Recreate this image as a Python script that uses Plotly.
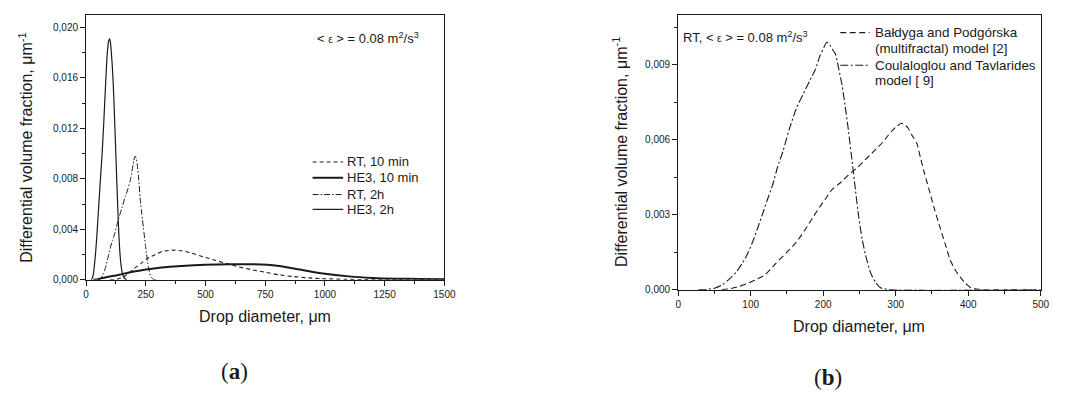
import plotly.graph_objects as go

# ---------------- data: panel (a) ----------------
rt10_x = [100, 130, 160, 180, 202, 230, 257, 290, 320, 360, 400, 440, 491, 540, 590, 640, 698, 750,
          808, 870, 945, 1000, 1083, 1180, 1300, 1500]
rt10_y = [0, 0.00005, 0.00026, 0.00055, 0.0009, 0.0013, 0.00169, 0.0020, 0.00225, 0.00235, 0.0023,
          0.00212, 0.00182, 0.00155, 0.00128, 0.00102, 0.00078, 0.0006, 0.00039, 0.00025, 0.00013,
          0.00008, 0.00004, 0.00001, 0, 0]

he3_10_x = [30, 50, 80, 100, 125, 150, 200, 250, 300, 350, 400, 500, 600, 700, 800, 875, 950, 1000,
            1100, 1200, 1300, 1400, 1500]
he3_10_y = [0, 0.00005, 0.00018, 0.00026, 0.00034, 0.00045, 0.00065, 0.00082, 0.00094, 0.00104,
            0.0011, 0.00119, 0.00123, 0.00123, 0.00112, 0.00088, 0.00062, 0.00048, 0.00027, 0.00015,
            0.00009, 0.00006, 0.00004]

rt2_x = [50, 60, 70, 80, 92, 102, 110, 120, 130, 140, 150, 164, 175, 184, 192, 199, 205, 210, 215,
         220, 226, 233, 240, 248, 256, 264, 272, 285, 300]
rt2_y = [0, 0.00005, 0.0004, 0.0009, 0.0018, 0.0026, 0.0031, 0.0037, 0.0044, 0.0051, 0.0057, 0.0066,
         0.0072, 0.0078, 0.0086, 0.0094, 0.0098, 0.0096, 0.0090, 0.0080, 0.0065, 0.0052, 0.0041,
         0.0028, 0.0016, 0.0007, 0.0002, 0, 0]

he3_2_x = [20, 25, 30, 35, 40, 45, 50, 55, 60, 67, 74, 81, 88, 94, 98, 102, 106, 110, 114, 119, 124,
           130, 136, 142, 148, 155, 162, 170]
he3_2_y = [0, 0.0001, 0.0004, 0.0012, 0.0022, 0.0035, 0.0050, 0.0065, 0.0080, 0.0100, 0.0125,
           0.0153, 0.0178, 0.0189, 0.0191, 0.0188, 0.0179, 0.0168, 0.0153, 0.0128, 0.0102, 0.0070,
           0.0040, 0.0020, 0.0009, 0.0003, 0.0001, 0]

# ---------------- data: panel (b) ----------------
bp_x = [60, 70, 84, 95, 107, 120, 135, 150, 163, 175, 186, 195, 203, 212, 224, 235, 247, 258, 270,
        282, 294, 300, 308, 312, 317, 322, 329, 334, 340, 347, 354, 361, 368, 375, 382, 389, 396, 405,
        420, 500]
bp_y = [0, 0.00003, 0.00013, 0.00024, 0.0004, 0.0006, 0.00106, 0.0015, 0.0019, 0.0024, 0.0029,
        0.0033, 0.00363, 0.004, 0.00429, 0.0046, 0.00488, 0.0052, 0.00554, 0.0059, 0.00633, 0.0065,
        0.00666, 0.0066, 0.00647, 0.0062, 0.00587, 0.0053, 0.00462, 0.0039, 0.00317, 0.0025,
        0.00185, 0.0012, 0.00079, 0.0005, 0.00026, 0.00005, 0, 0]

ct_x = [28, 40, 51, 60, 72, 80, 88.5, 95, 102.5, 110, 116.5, 123, 130.5, 137, 144.5, 153, 163, 172,
        181.7, 189, 195.7, 201, 205, 209, 213, 216.7, 221, 226, 230, 235, 240, 244.6, 249, 254, 260,
        265.6, 272, 279.6, 293.6, 500]
ct_y = [0, 0.00001, 0.00007, 0.00018, 0.00046, 0.0007, 0.00106, 0.0014, 0.0019, 0.0025, 0.00304,
        0.0036, 0.00422, 0.0049, 0.00554, 0.0064, 0.00726, 0.0078, 0.00838, 0.0088, 0.00937, 0.0097,
        0.0099, 0.0098, 0.0096, 0.00944, 0.0089, 0.00818, 0.0074, 0.00633, 0.0051, 0.00396, 0.0029,
        0.00198, 0.0012, 0.00066, 0.0003, 0.00007, 0, 0]

legend_a = ["RT, 10 min", "HE3, 10 min", "RT, 2h", "HE3, 2h"]
legend_b = ["Bałdyga and Podgórska", "(multifractal) model [2]", "Coulaloglou and Tavlarides",
            "model [ 9]"]

W, H = 1069, 403
FONT = "Liberation Sans, Arial, sans-serif"
INK = "#1a1a1a"

# panel geometry (pixels)
AL, AR, AT, AB = 84.3, 447.7, 15, 283.3
BL, BR, BT, BB = 684.8, 1052.5, 15, 293.3


def px(x):
    return x / W


def py(y):
    return 1 - y / H


def bx(f):
    return BL + f * (BR - BL)


styles_a = [
    dict(color=INK, width=1.1, dash="4px,3px"),
    dict(color=INK, width=2.0, dash="solid"),
    dict(color=INK, width=1.0, dash="6px,2px,1.5px,2px"),
    dict(color=INK, width=1.2, dash="solid"),
]
styles_b = [
    dict(color=INK, width=1.1, dash="6px,3.5px"),
    dict(color=INK, width=1.1, dash="8px,2.5px,2px,2.5px"),
]

fig = go.Figure()
for xs, ys, st in zip([rt10_x, he3_10_x, rt2_x, he3_2_x], [rt10_y, he3_10_y, rt2_y, he3_2_y], styles_a):
    fig.add_trace(go.Scatter(x=xs, y=ys, mode="lines", line=dict(shape="spline", smoothing=0.6, **st),
                             xaxis="x", yaxis="y", showlegend=False, hoverinfo="skip"))
for xs, ys, st in zip([bp_x, ct_x], [bp_y, ct_y], styles_b):
    fig.add_trace(go.Scatter(x=xs, y=ys, mode="lines", line=dict(shape="spline", smoothing=0.6, **st),
                             xaxis="x2", yaxis="y2", showlegend=False, hoverinfo="skip"))

axis_common = dict(showline=True, linecolor=INK, linewidth=1.1, mirror=True, ticks="outside",
                   ticklen=5, tickwidth=1, tickcolor=INK, showgrid=False, zeroline=False,
                   tickfont=dict(family=FONT, size=10, color=INK), fixedrange=True)

fig.update_layout(
    width=W, height=H, margin=dict(l=0, r=0, t=0, b=0),
    paper_bgcolor="white", plot_bgcolor="white", separators=", ",
    showlegend=False,
    xaxis=dict(domain=[px(AL), px(AR)], range=[0, 1500], anchor="y", tickvals=[0, 250, 500, 750, 1000, 1250, 1500],
               minor=dict(dtick=125, tick0=0, ticks="outside", ticklen=3, tickcolor=INK), **axis_common),
    yaxis=dict(domain=[py(AB), py(AT)], range=[0, 0.021], anchor="x", tickvals=[0, 0.004, 0.008, 0.012, 0.016, 0.02],
               tickformat=".3f", minor=dict(dtick=0.002, tick0=0, ticks="outside", ticklen=3, tickcolor=INK),
               **axis_common),
    xaxis2=dict(domain=[px(BL), px(BR)], range=[0, 500], anchor="y2", tickvals=[0, 100, 200, 300, 400, 500],
                minor=dict(dtick=50, tick0=0, ticks="outside", ticklen=3, tickcolor=INK), **axis_common),
    yaxis2=dict(domain=[py(BB), py(BT)], range=[0, 0.011], anchor="x2", tickvals=[0, 0.003, 0.006, 0.009],
                tickformat=".3f", minor=dict(dtick=0.0015, tick0=0, ticks="outside", ticklen=3, tickcolor=INK),
                **axis_common),
)

ann = []
tfont = dict(family=FONT, size=16, color=INK)
ann.append(dict(text="Drop diameter, μm", x=px((AL + AR) / 2), y=py(320), xref="paper", yref="paper",
                xanchor="center", yanchor="middle", showarrow=False, font=tfont))
ann.append(dict(text="Differential volume fraction, μm<sup>-1</sup>", x=px(23), y=py(149), xref="paper",
                yref="paper", xanchor="center", yanchor="middle", textangle=-90, showarrow=False, font=tfont))
ann.append(dict(text="Drop diameter, μm", x=px((BL + BR) / 2), y=py(331), xref="paper", yref="paper",
                xanchor="center", yanchor="middle", showarrow=False, font=tfont))
ann.append(dict(text="Differential volume fraction, μm<sup>-1</sup>", x=px(BL - 59), y=py(154), xref="paper",
                yref="paper", xanchor="center", yanchor="middle", textangle=-90, showarrow=False, font=tfont))

lfont = dict(family=FONT, size=13, color=INK)
eps = "&lt; <span style='font-size:10px'>ε</span> &gt; = 0.08 m<sup>2</sup>/s<sup>3</sup>"
ann.append(dict(text=eps, x=px(316), y=py(38), xref="paper", yref="paper", xanchor="left",
                yanchor="middle", showarrow=False, font=lfont))
ann.append(dict(text="RT, " + eps, x=px(bx(0.008)), y=py(37), xref="paper", yref="paper", xanchor="left",
                yanchor="middle", showarrow=False, font=lfont))

shapes = []
rows_a = [164, 180, 197, 212]
for lbl, st, yy in zip(legend_a, styles_a, rows_a):
    shapes.append(dict(type="line", xref="paper", yref="paper", x0=px(314), x1=px(345), y0=py(yy), y1=py(yy),
                       line=st))
    ann.append(dict(text=lbl, x=px(347), y=py(yy), xref="paper", yref="paper", xanchor="left",
                    yanchor="middle", showarrow=False, font=lfont))

bfont = dict(family=FONT, size=13.4, color=INK)
rows_b = [33, 49, 66, 82]
for i, (lbl, yy) in enumerate(zip(legend_b, rows_b)):
    if i % 2 == 0:
        st = styles_b[i // 2]
        shapes.append(dict(type="line", xref="paper", yref="paper", x0=px(bx(0.447)), x1=px(bx(0.528)),
                           y0=py(yy), y1=py(yy), line=st))
    ann.append(dict(text=lbl, x=px(bx(0.538)), y=py(yy), xref="paper", yref="paper", xanchor="left",
                    yanchor="middle", showarrow=False, font=bfont))

pfont = dict(family="Liberation Serif, Times New Roman, serif", size=23, color=INK)
ann.append(dict(text="(<b>a</b>)", x=px(235), y=py(376), xref="paper", yref="paper", xanchor="center",
                yanchor="middle", showarrow=False, font=pfont))
ann.append(dict(text="(<b>b</b>)", x=px(bx(0.413)), y=py(382), xref="paper", yref="paper", xanchor="center",
                yanchor="middle", showarrow=False, font=pfont))

fig.update_layout(annotations=ann, shapes=shapes)
fig.write_html("out.html")
